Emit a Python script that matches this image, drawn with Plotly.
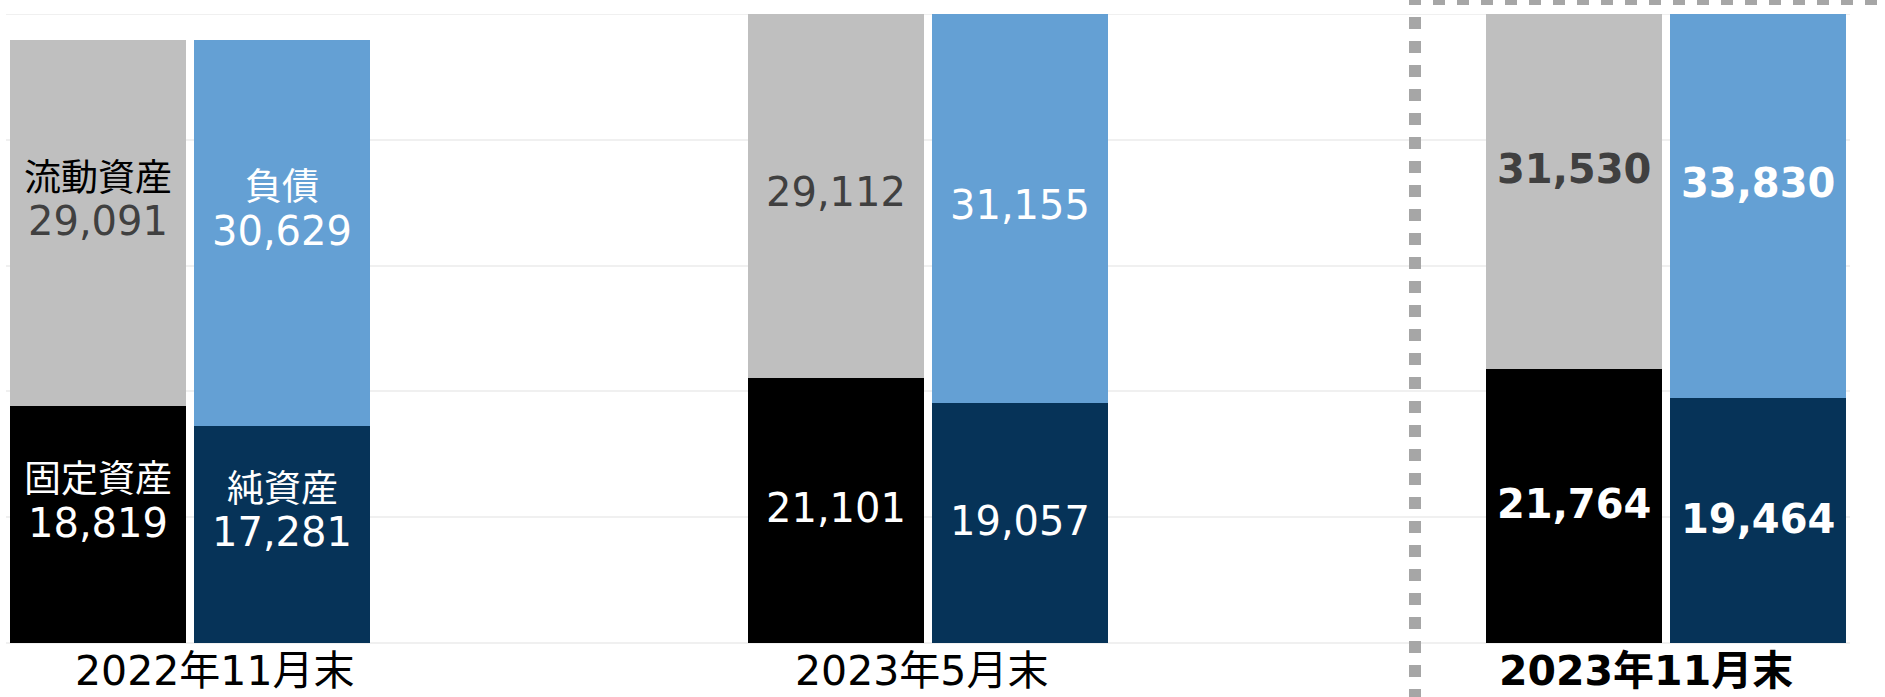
import numpy as np
import plotly.graph_objects as go

# Balance sheet at each period end (millions of yen)
categories = ["2022年11月末", "2023年5月末", "2023年11月末"]
fixed_assets = [18819, 21101, 21764]      # 固定資産
current_assets = [29091, 29112, 31530]    # 流動資産
net_assets = [17281, 19057, 19464]        # 純資産
liabilities = [30629, 31155, 33830]       # 負債

# Item names shown only on the first period's bars
name_fixed = "固定資産"
name_current = "流動資産"
name_net = "純資産"
name_liab = "負債"

Y_MAX = 50000
Y_STEP = 10000

FONT = "DejaVu Sans, Noto Sans CJK JP, sans-serif"
C_GRAY = "#BFBFBF"
C_BLUE = "#64A0D4"
C_BLACK = "#000000"
C_NAVY = "#063358"
C_GRID = "#F0F0F0"

idx = np.arange(len(categories))
half = 0.1247
bar_w = 0.2386
x_assets = idx - half
x_liab = idx + half

fig = go.Figure()
for xs, vals, color in [
    (x_assets, fixed_assets, C_BLACK),
    (x_assets, current_assets, C_GRAY),
    (x_liab, net_assets, C_NAVY),
    (x_liab, liabilities, C_BLUE),
]:
    fig.add_trace(go.Bar(
        x=xs, y=vals, width=bar_w,
        marker=dict(color=color, line=dict(width=0)),
        hoverinfo="skip", showlegend=False,
    ))

annotations = []


def fmt(v):
    return f"{v:,}"


def add_value(x, y, v, color, bold):
    txt = f"<b>{fmt(v)}</b>" if bold else fmt(v)
    annotations.append(dict(
        x=x, y=y, xref="x", yref="y", text=txt, showarrow=False,
        yanchor="middle", xanchor="center", yshift=2,
        font=dict(family=FONT, size=40, color=color),
    ))


def add_name(x, y, name, color):
    annotations.append(dict(
        x=x, y=y, xref="x", yref="y", text=name, showarrow=False,
        yanchor="middle", xanchor="center", yshift=45,
        font=dict(family=FONT, size=37, color=color),
    ))


last = len(categories) - 1
for i in idx:
    bold = i == last
    fa, ca = fixed_assets[i], current_assets[i]
    na, li = net_assets[i], liabilities[i]
    add_value(x_assets[i], fa / 2, fa, "#FFFFFF", bold)
    add_value(x_assets[i], fa + ca / 2, ca, "#404040", bold)
    add_value(x_liab[i], na / 2, na, "#FFFFFF", bold)
    add_value(x_liab[i], na + li / 2, li, "#FFFFFF", bold)
    if i == 0:
        add_name(x_assets[i], fa / 2, name_fixed, "#FFFFFF")
        add_name(x_assets[i], fa + ca / 2, name_current, "#000000")
        add_name(x_liab[i], na / 2, name_net, "#FFFFFF")
        add_name(x_liab[i], na + li / 2, name_liab, "#FFFFFF")

# Period labels under each group
label_shift = [25, -7, -20]
for i, cat in enumerate(categories):
    txt = f"<b>{cat}</b>" if i == last else cat
    annotations.append(dict(
        x=idx[i], y=0, xref="x", yref="y", text=txt, showarrow=False,
        yanchor="middle", xanchor="center", yshift=-28, xshift=label_shift[i],
        borderpad=0,
        font=dict(family=FONT, size=41, color="#000000"),
    ))

W, H = 1885, 697
ML, MR, MT, MB = 6, 35, 14, 54
PW, PH = W - ML - MR, H - MT - MB


def px_x(px):
    return (px - ML) / PW


def px_y(py):
    return (H - MB - py) / PH


# Dotted frame marking the latest period
DOT = dict(color="#A6A6A6", width=12, dash="dot")
shapes = [
    # gridline along the top of the value range
    dict(type="line", xref="paper", yref="y", x0=0, x1=1, y0=Y_MAX, y1=Y_MAX,
         line=dict(color=C_GRID, width=2), layer="below"),
    dict(type="line", xref="paper", yref="paper",
         x0=px_x(1415), x1=px_x(1415), y0=px_y(-7), y1=px_y(720),
         line=DOT, layer="above"),
    dict(type="line", xref="paper", yref="paper",
         x0=px_x(1409), x1=px_x(1905), y0=px_y(-1), y1=px_y(-1),
         line=DOT, layer="above"),
]

fig.update_layout(
    width=W, height=H,
    margin=dict(l=ML, r=MR, t=MT, b=MB, pad=0),
    barmode="stack",
    plot_bgcolor="#FFFFFF", paper_bgcolor="#FFFFFF",
    xaxis=dict(range=[-0.25, 2.25], showticklabels=False, showgrid=False,
               zeroline=False, showline=False, ticks=""),
    yaxis=dict(range=[0, Y_MAX], dtick=Y_STEP, showticklabels=False,
               showgrid=True, gridcolor=C_GRID, gridwidth=2,
               zeroline=True, zerolinecolor=C_GRID, zerolinewidth=2,
               showline=False, ticks=""),
    annotations=annotations,
    shapes=shapes,
    font=dict(family=FONT),
)

fig.write_html("out.html")
